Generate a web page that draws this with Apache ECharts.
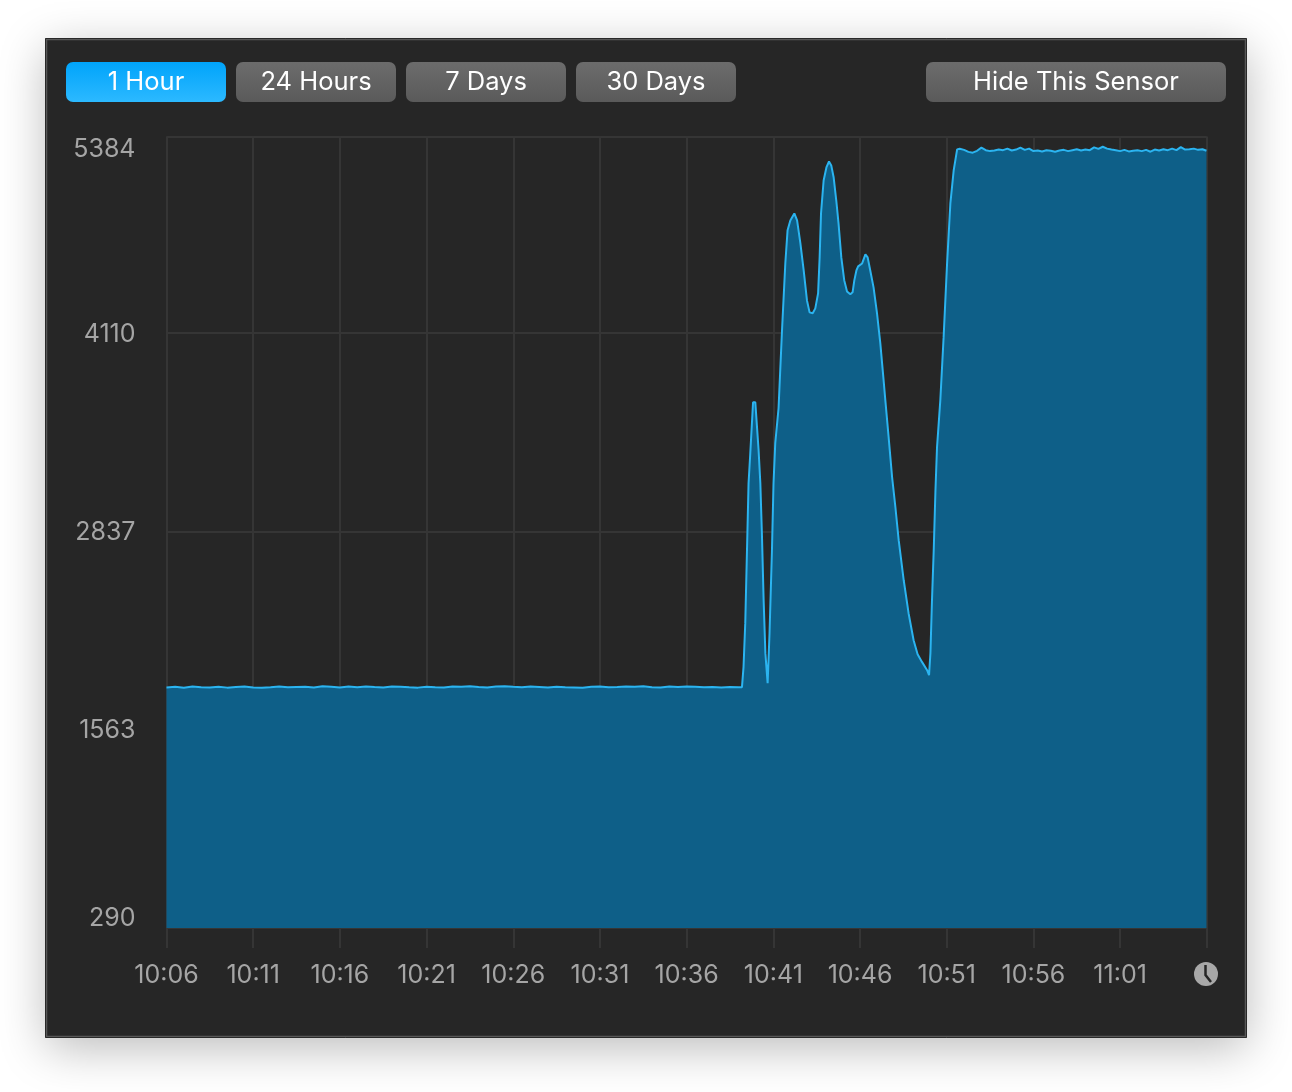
<!DOCTYPE html>
<html>
<head>
<meta charset="utf-8">
<style>html,body{margin:0;padding:0;background:#fff}#c{width:1292px;height:1092px}</style>
<script src="https://cdn.jsdelivr.net/npm/echarts@6/dist/echarts.min.js"></script>
</head>
<body>
<div id="c"></div>
<script>
const baselineMinutes = [0,0.5,1,1.5,2,2.5,3,3.5,4,4.5,5,5.5,6,6.5,7,7.5,8,8.5,9,9.5,10,10.5,11,11.5,12,12.5,13,13.5,14,14.5,15,15.5,16,16.5,17,17.5,18,18.5,19,19.5,20,20.5,21,21.5,22,22.5,23,23.5,24,24.5,25,25.5,26,26.5,27,27.5,28,28.5,29,29.5,30,30.5,31,31.5,32,32.5,33];
const baselineValues = [1838,1842,1836,1844,1840,1838,1843,1837,1841,1844,1838,1836,1840,1845,1839,1841,1843,1838,1846,1842,1838,1844,1840,1845,1841,1838,1844,1842,1839,1837,1843,1840,1838,1845,1842,1846,1841,1838,1844,1846,1842,1839,1844,1841,1838,1843,1840,1838,1836,1842,1844,1839,1841,1845,1843,1846,1840,1838,1844,1841,1845,1842,1839,1841,1838,1841,1840];
const riseMinutes = [33.19,33.28,33.38,33.48,33.57,33.67,33.83,33.96,34.15,34.25,34.34,34.44,34.54,34.67,34.78,34.92,35.01,35.11,35.30,35.50,35.69,35.82,35.98,36.21,36.37,36.56,36.75,36.94,37.09,37.27,37.42,37.58,37.67,37.75,37.90,38.06,38.21,38.34,38.48,38.63,38.76,38.92,39.09,39.25,39.44,39.57,39.67,39.79,39.89,40.12,40.31,40.44,40.59,40.78,40.98,41.17,41.36,41.46,41.65,41.85,42.04,42.23,42.52,42.80,43.09,43.32,43.58,43.87,43.98,44.06,44.15,44.25,44.35,44.44,44.63,44.82,45.02,45.21,45.40,45.60];
const riseValues = [1840,1969,2252,2721,3152,3345,3673,3673,3364,3152,2831,2400,2059,1866,2187,2721,3152,3410,3635,4136,4567,4780,4844,4889,4844,4696,4522,4329,4252,4246,4278,4374,4606,4889,5101,5185,5223,5198,5120,4972,4825,4606,4458,4387,4368,4381,4458,4522,4548,4567,4625,4606,4522,4413,4246,4053,3815,3686,3448,3191,2998,2786,2528,2316,2142,2052,2001,1949,1917,2059,2400,2721,3107,3384,3686,4091,4567,4953,5165,5301];
const plateauMinutes = [45.75,46,46.25,46.5,46.75,47,47.25,47.5,47.75,48,48.25,48.5,48.75,49,49.25,49.5,49.75,50,50.25,50.5,50.75,51,51.25,51.5,51.75,52,52.25,52.5,52.75,53,53.25,53.5,53.75,54,54.25,54.5,54.75,55,55.25,55.5,55.75,56,56.25,56.5,56.75,57,57.25,57.5,57.75,58,58.25,58.5,58.75,59,59.25,59.5,59.75,59.98];
const plateauValues = [5305,5298,5285,5280,5292,5312,5296,5290,5294,5300,5296,5306,5294,5300,5312,5298,5306,5290,5294,5288,5296,5292,5286,5294,5298,5290,5296,5302,5294,5300,5296,5314,5304,5318,5306,5300,5296,5290,5298,5288,5292,5296,5290,5298,5286,5300,5294,5302,5296,5306,5296,5316,5300,5302,5306,5298,5302,5292];
const tickMinutes = [0,5,10,15,20,25,30,35,40,45,50,55,60];
const tickLabels = ['10:06','10:11','10:16','10:21','10:26','10:31','10:36','10:41','10:46','10:51','10:56','11:01',''];
const yGridValues = [290,1566,2843,4120,5384];
const yTicks = [290,1563,2837,4110,5384];
const buttons = ['1 Hour','24 Hours','7 Days','30 Days','Hide This Sensor'];

const minutes = baselineMinutes.concat(riseMinutes, plateauMinutes);
const values = baselineValues.concat(riseValues, plateauValues);
const points = minutes.map((m,i)=>[m,values[i]]);

const FONT = 'Inter, "Noto Sans", sans-serif';
const GRIDC = '#353535';
const btnX = [[66,160],[236,160],[406,160],[576,160],[926,300]];
const blue = {type:'linear',x:0,y:0,x2:0,y2:1,colorStops:[{offset:0,color:'#00a4fb'},{offset:1,color:'#2cb9ff'}]};
const gray = {type:'linear',x:0,y:0,x2:0,y2:1,colorStops:[{offset:0,color:'#6c6c6c'},{offset:1,color:'#5a5a5a'}]};

const graphic = [
  {type:'rect',z:-20,silent:true,shape:{x:45.5,y:38.5,width:1201,height:999},
   style:{fill:'#262626',stroke:'#1a1a1a',lineWidth:1,shadowBlur:45,shadowColor:'rgba(0,0,0,0.28)',shadowOffsetY:10}},
  {type:'rect',z:-19,silent:true,shape:{x:46.5,y:39.5,width:1199,height:997},
   style:{fill:'#262626',stroke:'#575757',lineWidth:1.5}}
];
buttons.forEach((t,i)=>{
  graphic.push({type:'rect',z:5,silent:true,shape:{x:btnX[i][0],y:62,width:btnX[i][1],height:40,r:7},
    style:{fill:i===0?blue:gray}});
  graphic.push({type:'text',z:6,silent:true,x:btnX[i][0]+btnX[i][1]/2,y:82,
    style:{text:t,fill:'#fff',font:'400 25.5px '+FONT,align:'center',verticalAlign:'middle'}});
});
graphic.push({type:'circle',z:6,silent:true,shape:{cx:1206,cy:974,r:12},style:{fill:'#a8a8a8'}});
graphic.push({type:'polyline',z:7,silent:true,shape:{points:[[1205.5,965],[1205.5,975],[1211,982]]},
  style:{stroke:'#262626',lineWidth:2.5,fill:null}});

const chart = echarts.init(document.getElementById('c'),null,{renderer:'canvas'});
chart.setOption({
  animation:false,
  backgroundColor:'transparent',
  graphic:graphic,
  grid:{left:166.5,right:85.2,top:136.5,bottom:164,containLabel:false},
  xAxis:{
    type:'value',min:0,max:60,
    axisLine:{show:false},
    axisTick:{show:true,length:20,lineStyle:{color:GRIDC,width:2},customValues:tickMinutes},
    splitLine:{show:true,lineStyle:{color:GRIDC,width:2}},
    axisLabel:{customValues:tickMinutes,formatter:v=>tickLabels[tickMinutes.indexOf(v)],
      color:'#a5a5a5',fontFamily:FONT,fontSize:25,margin:35,hideOverlap:false}
  },
  yAxis:{
    type:'value',min:290,max:5384,
    axisLine:{show:false},
    axisTick:{show:false,customValues:yGridValues},
    splitLine:{show:true,lineStyle:{color:GRIDC,width:2}},
    axisLabel:{customValues:yTicks,formatter:v=>String(v),
      color:'#a5a5a5',fontFamily:FONT,fontSize:25,margin:31,lineHeight:20,padding:[2.5,0,0,0],
      verticalAlignMinLabel:'bottom',verticalAlignMaxLabel:'top'}
  },
  series:[{
    type:'line',data:points,showSymbol:false,smooth:false,
    lineStyle:{color:'#2bb4f0',width:2},
    areaStyle:{color:'#0e5f88',opacity:1},
    itemStyle:{color:'#2bb4f0'}
  }]
});
</script>
</body>
</html>
